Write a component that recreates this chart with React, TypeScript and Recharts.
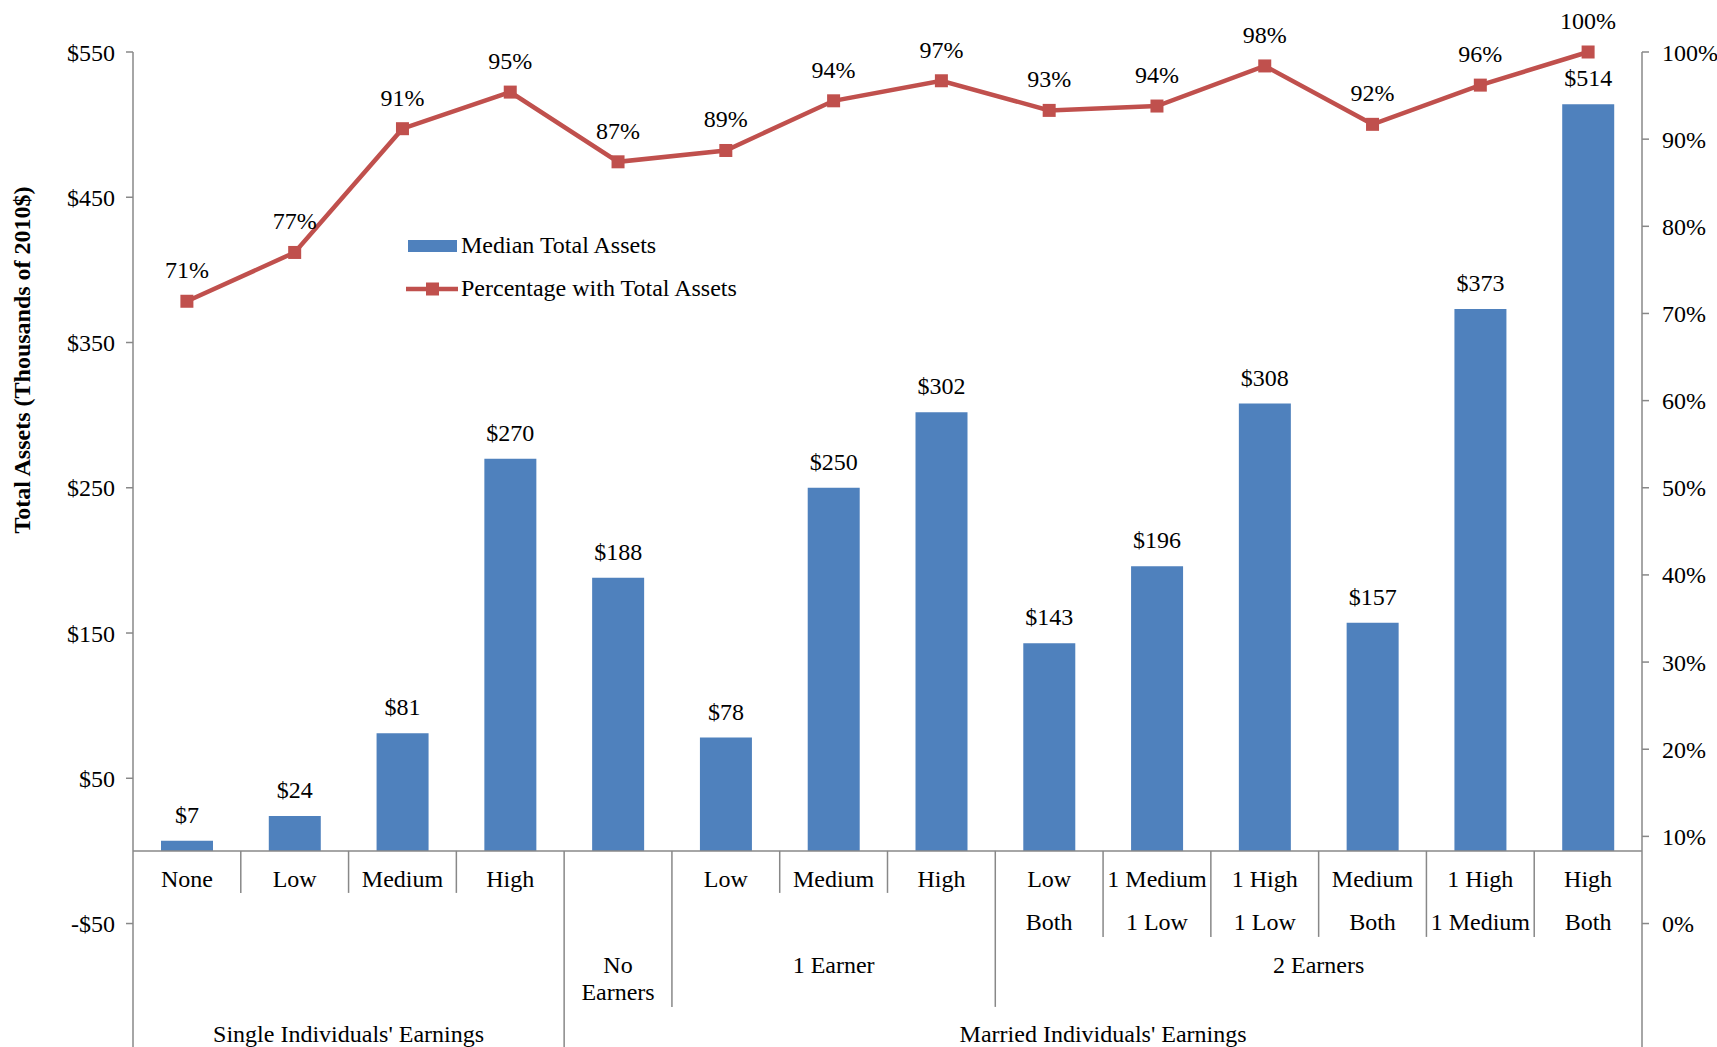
import { ComposedChart, Bar, Line, XAxis, YAxis, ReferenceLine, LabelList } from 'recharts'

// category labels, first and second line of the innermost axis level
const catTop = ['None', 'Low', 'Medium', 'High', '', 'Low', 'Medium', 'High', 'Low', '1 Medium', '1 High', 'Medium', '1 High', 'High']
const catBottom = ['', '', '', '', '', '', '', '', 'Both', '1 Low', '1 Low', 'Both', '1 Medium', 'Both']

// middle level: label lines + first category index of each group
const midLabels = [[], ['No', 'Earners'], ['1 Earner'], ['2 Earners']]
const midStarts = [0, 4, 5, 8]

// outer level
const outerLabels = ["Single Individuals' Earnings", "Married Individuals' Earnings"]
const outerStarts = [0, 4]

// series (thousands of 2010$ / percent)
const medianAssets = [7, 24, 81, 270, 188, 78, 250, 302, 143, 196, 308, 157, 373, 514]
const pctWithAssets = [71.4, 77, 91.2, 95.4, 87.4, 88.7, 94.4, 96.7, 93.3, 93.8, 98.4, 91.7, 96.2, 100]

const leftTicks = [-50, 50, 150, 250, 350, 450, 550]
const rightTicks = [0, 10, 20, 30, 40, 50, 60, 70, 80, 90, 100]

const data = medianAssets.map((v, i) => ({ idx: i, assets: v, pct: pctWithAssets[i] }))

const LEFT_MIN = -135
const RIGHT_MIN = (LEFT_MIN + 50) / 6 // keeps $-50 aligned with 0%

const FONT = "'Liberation Serif', 'Times New Roman', serif"
const BLUE = '#4F81BD'
const RED = '#C0504D'
const GRID = '#888888'

const txt = { fill: '#000', fontSize: 24, fontFamily: FONT }

const groupEnd = (starts: number[], k: number) => (k + 1 < starts.length ? starts[k + 1] : catTop.length)

function CategoryAxis(props: any) {
  const vb = props.viewBox || {}
  const x0 = vb.x, y0 = vb.y, w = vb.width
  if (x0 == null || y0 == null || !w) return null
  const n = catTop.length
  const band = w / n
  const cx = (i: number) => x0 + (i + 0.5) * band
  const items: any[] = []

  catTop.forEach((t, i) => {
    items.push(<text key={'t' + i} x={cx(i)} y={y0 + 28} textAnchor="middle" dominantBaseline="central" {...txt}>{t}</text>)
    if (catBottom[i]) items.push(<text key={'b' + i} x={cx(i)} y={y0 + 71} textAnchor="middle" dominantBaseline="central" {...txt}>{catBottom[i]}</text>)
  })

  midLabels.forEach((lines, k) => {
    const s = midStarts[k], e = groupEnd(midStarts, k)
    const mx = x0 + ((s + e) / 2) * band
    lines.forEach((l, j) => (
      items.push(<text key={'m' + k + j} x={mx} y={y0 + 114 + j * 27} textAnchor="middle" dominantBaseline="central" {...txt}>{l}</text>)
    ))
  })

  outerLabels.forEach((l, k) => {
    const s = outerStarts[k], e = groupEnd(outerStarts, k)
    items.push(<text key={'o' + k} x={x0 + ((s + e) / 2) * band} y={y0 + 183} textAnchor="middle" dominantBaseline="central" {...txt}>{l}</text>)
  })

  for (let i = 1; i < n; i++) {
    let len
    if (outerStarts.includes(i)) len = 400
    else if (midStarts.includes(i)) len = 156
    else len = catBottom[i - 1] || catBottom[i] ? 86 : 42
    const lx = x0 + i * band
    items.push(<line key={'s' + i} x1={lx} x2={lx} y1={y0} y2={y0 + len} stroke={GRID} strokeWidth={1.5} />)
  }
  return <g>{items}</g>
}

const SquareDot = (p: any) => {
  if (p.cx == null || p.cy == null) return null
  return <rect key={p.index} x={p.cx - 6.5} y={p.cy - 6.5} width={13} height={13} fill={RED} />
}

export default function App() {
  return (
    <div style={{ position: 'absolute', left: 0, top: 0, width: 1717, height: 1047, background: '#fff', fontFamily: FONT, overflow: 'hidden' }}>
      <ComposedChart width={1717} height={1047} data={data} margin={{ top: 52, right: 0, bottom: 0, left: 0 }}>
        <XAxis dataKey="idx" type="category" hide />
        <YAxis
          yAxisId="left"
          width={133}
          domain={[LEFT_MIN, 550]}
          ticks={leftTicks}
          interval={0}
          tickFormatter={(v: number) => (v < 0 ? `-$${-v}` : `$${v}`)}
          stroke={GRID}
          strokeWidth={1.5}
          tickSize={7}
          tickMargin={11}
          tick={txt}
        />
        <YAxis
          yAxisId="right"
          orientation="right"
          width={75}
          domain={[RIGHT_MIN, 100]}
          ticks={rightTicks}
          interval={0}
          tickFormatter={(v: number) => `${v}%`}
          stroke={GRID}
          strokeWidth={1.5}
          tickSize={7}
          tickMargin={13}
          tick={txt}
        />
        <Bar yAxisId="left" dataKey="assets" fill={BLUE} barSize={52} isAnimationActive={false}>
          <LabelList dataKey="assets" position="top" offset={18} formatter={(v: any) => `$${v}`} {...txt} />
        </Bar>
        <ReferenceLine yAxisId="left" y={0} stroke={GRID} strokeWidth={1.5} label={CategoryAxis} />
        <Line
          yAxisId="right"
          type="linear"
          dataKey="pct"
          stroke={RED}
          strokeWidth={4.5}
          dot={SquareDot}
          activeDot={false}
          isAnimationActive={false}
        >
          <LabelList dataKey="pct" position="top" offset={23} formatter={(v: any) => `${Math.round(v)}%`} {...txt} />
        </Line>
      </ComposedChart>

      {/* axis title */}
      <div style={{ position: 'absolute', left: 22, top: 360, transform: 'translate(-50%, -50%) rotate(-90deg)', whiteSpace: 'nowrap', fontSize: 24, fontWeight: 'bold', color: '#000' }}>
        Total Assets (Thousands of 2010$)
      </div>

      {/* legend */}
      <div style={{ position: 'absolute', left: 405, top: 224, fontSize: 24, color: '#000', lineHeight: '43px' }}>
        <div style={{ display: 'flex', alignItems: 'center' }}>
          <svg width={56} height={20}><rect x={3} y={4} width={49} height={12} fill={BLUE} /></svg>
          <span>Median Total Assets</span>
        </div>
        <div style={{ display: 'flex', alignItems: 'center' }}>
          <svg width={56} height={20}><line x1={1} x2={53} y1={10} y2={10} stroke={RED} strokeWidth={4.5} /><rect x={21} y={3.5} width={13} height={13} fill={RED} /></svg>
          <span>Percentage with Total Assets</span>
        </div>
      </div>
    </div>
  )
}
